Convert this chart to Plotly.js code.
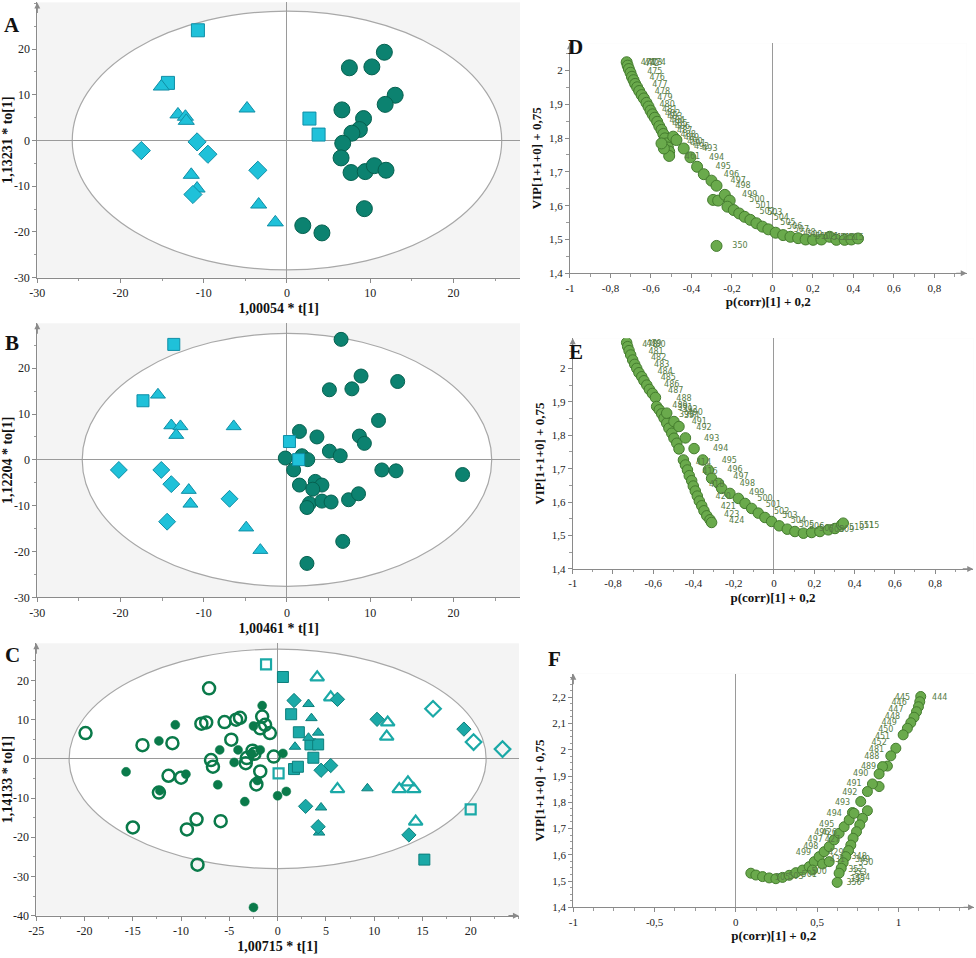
<!DOCTYPE html>
<html><head><meta charset="utf-8">
<script src="https://cdn.plot.ly/plotly-3.0.1.min.js"></script>
<style>html,body{margin:0;padding:0;background:#fff}#chart{width:976px;height:958px}</style>
</head><body><div id="chart"></div>
<script>
// ---------- Panel A (OPLS-DA scores) ----------
const A_sq_x = [-10.7, -14.3, 2.7, 3.8];
const A_sq_y = [24.1, 12.6, 4.8, 1.3];
const A_tri_x = [-15.1, -13.1, -12.2, -12.1, -4.8, -11.5, -10.8, -3.4, -1.4];
const A_tri_y = [11.8, 5.7, 5.2, 4.3, 7.0, -7.5, -10.5, -14.0, -17.9];
const A_dia_x = [-17.5, -10.8, -9.5, -3.5, -11.3];
const A_dia_y = [-2.2, -0.3, -3.0, -6.5, -11.8];
const A_cir_x = [7.5, 10.2, 11.7, 13.0, 11.8, 6.6, 9.2, 8.7, 7.8, 6.7, 6.5, 7.7, 9.4, 10.5, 11.9, 9.3, 1.9, 4.2];
const A_cir_y = [15.9, 16.1, 19.3, 9.9, 7.9, 6.7, 4.8, 2.4, 1.6, -0.6, -3.8, -7.0, -6.8, -5.5, -6.5, -14.9, -18.6, -20.2];

// ---------- Panel B ----------
const B_sq_x = [-13.6, -17.3, 0.3, 1.4];
const B_sq_y = [25.2, 12.9, 4.0, 0.05];
const B_tri_x = [-15.5, -13.9, -12.8, -13.3, -6.4, -11.8, -11.6, -4.9, -3.2];
const B_tri_y = [14.2, 7.5, 7.3, 5.4, 7.3, -6.6, -9.6, -14.8, -19.7];
const B_dia_x = [-20.2, -15.1, -13.9, -6.9, -14.4];
const B_dia_y = [-2.2, -2.2, -5.3, -8.5, -13.5];
const B_cir_x = [6.5, 8.9, 13.3, 5.1, 7.8, 11.0, 1.5, 3.6, 8.7, 9.3, -0.2, 1.8, 2.5, 5.1, 6.4, 0.8, 11.4, 13.1, 21.1, 1.5, 3.4, 4.2, 3.1, 2.7, 2.4, 4.2, 5.3, 7.4, 8.6, 6.7, 2.4];
const B_cir_y = [26.3, 18.3, 17.1, 15.3, 15.5, 8.6, 6.2, 5.0, 5.2, 3.6, 0.4, 0.9, 0.05, 1.9, 0.9, -2.2, -2.2, -2.4, -3.2, -5.5, -4.7, -5.5, -6.4, -9.5, -10.4, -9.0, -9.2, -8.7, -7.4, -17.8, -22.6];

// ---------- Panel C ----------
const C_osq_x = [-1.2, 0.1, 20.0];
const C_osq_y = [24.1, -3.7, -12.9];
const C_sq_x = [0.55, 1.4, 2.2, 3.4, 4.2, 3.7, 1.7, 2.1, 15.2];
const C_sq_y = [20.9, 11.4, 6.8, 3.7, 3.7, 0.3, -2.6, -2.0, -25.7];
const C_otri_x = [4.1, 5.5, 11.4, 11.3, 6.2, 12.6, 13.5, 14.1, 14.3];
const C_otri_y = [20.8, 15.7, 9.3, 5.7, -7.7, -7.7, -6.0, -7.7, -16.0];
const C_tri_x = [3.2, 3.5, 4.2, 3.2, 1.8, 9.3, 4.5, 4.3];
const C_tri_y = [14.0, 10.4, 6.7, 5.4, 3.1, -7.5, -12.4, -18.8];
const C_odia_x = [16.1, 20.3, 23.3];
const C_odia_y = [12.8, 4.3, 2.5];
const C_dia_x = [1.7, 6.2, 10.3, 19.3, 4.5, 5.5, 2.9, 4.2, 13.6];
const C_dia_y = [14.9, 15.2, 10.1, 7.6, -2.9, -1.7, -12.1, -17.3, -19.4];
const C_ocir_x = [-19.9, -14.0, -10.9, -7.1, -7.9, -7.4, -5.5, -4.3, -3.9, -4.8, -1.6, -1.3, -1.8, -0.8, -2.6, -2.4, -0.4, -6.9, -6.7, -3.3, -1.8, -2.2, -11.3, -10.0, -12.3, -15.0, -9.4, -8.4, -5.9, -8.3, -3.2];
const C_ocir_y = [6.6, 3.5, 4.0, 18.0, 9.0, 9.3, 9.4, 10.0, 10.5, 4.9, 10.8, 8.7, 7.8, 6.6, 2.1, 1.3, 0.6, -0.3, -2.0, -1.1, -3.2, -6.5, -4.3, -4.8, -8.6, -17.5, -18.0, -15.4, -15.9, -27.0, 0.2];
const C_cir_x = [-15.7, -12.3, -10.6, -12.2, -9.5, -6.0, -6.2, -4.1, -4.5, -3.4, -1.6, -2.5, -1.8, -2.7, -2.1, 0.0, 0.9, 0.55, -2.5];
const C_cir_y = [-3.3, 4.6, 8.7, -8.1, -3.9, 2.3, -6.6, 2.3, -0.9, -10.9, 13.6, 8.4, 2.3, 1.4, -5.5, -9.4, -8.3, 1.4, -37.9];

// ---------- Panel D (loadings) ----------
const D_cir_x = [-0.720, -0.715, -0.709, -0.701, -0.694, -0.686, -0.678, -0.668, -0.658, -0.646, -0.635, -0.622, -0.612, -0.602, -0.592, -0.581, -0.569, -0.559, -0.548, -0.539, -0.531, -0.523, -0.516, -0.510, -0.510, -0.536, -0.548, -0.490, -0.474,
  -0.438, -0.405, -0.372, -0.339, -0.301, -0.276, -0.293, -0.268, -0.235, -0.211, -0.222, -0.191, -0.164, -0.137, -0.109, -0.079, -0.049, -0.020, 0.016, 0.053, 0.089, 0.127, 0.164, 0.201, 0.242, 0.283, 0.316, 0.357, 0.390, 0.423, -0.276];
const D_cir_y = [2.024, 2.014, 2.004, 1.993, 1.981, 1.971, 1.960, 1.950, 1.939, 1.927, 1.917, 1.904, 1.893, 1.881, 1.870, 1.860, 1.848, 1.835, 1.824, 1.812, 1.799, 1.784, 1.772, 1.760, 1.747, 1.769, 1.784, 1.804, 1.794,
  1.769, 1.743, 1.715, 1.693, 1.674, 1.659, 1.617, 1.615, 1.632, 1.615, 1.597, 1.587, 1.577, 1.567, 1.558, 1.548, 1.538, 1.530, 1.520, 1.513, 1.508, 1.504, 1.500, 1.499, 1.500, 1.508, 1.499, 1.499, 1.500, 1.503, 1.481];
const D_txt_x = [-0.613, -0.597, -0.581, -0.564, -0.581, -0.569, -0.556, -0.543, -0.531, -0.520, -0.507, -0.493, -0.482, -0.470, -0.457, -0.444, -0.433, -0.416, -0.400, -0.383, -0.367, -0.350,
  -0.309, -0.276, -0.243, -0.202, -0.169, -0.145, -0.112, -0.076, -0.046, -0.026, 0.012, 0.044, 0.077, 0.110, 0.143, 0.176, 0.209, 0.250, 0.291, 0.332, 0.373, 0.414, -0.395, -0.160];
const D_txt_y = [2.021, 2.019, 2.023, 2.021, 1.996, 1.976, 1.957, 1.937, 1.917, 1.898, 1.883, 1.871, 1.861, 1.851, 1.841, 1.832, 1.822, 1.809, 1.799, 1.789, 1.782, 1.774,
  1.767, 1.742, 1.715, 1.690, 1.674, 1.658, 1.631, 1.617, 1.600, 1.582, 1.577, 1.563, 1.550, 1.538, 1.528, 1.520, 1.513, 1.508, 1.506, 1.505, 1.504, 1.504, 1.745, 1.480];
const D_txt = ['471', '472', '473', '474', '475', '476', '477', '478', '479', '480', '481', '482', '483', '484', '485', '486', '487', '488', '489', '490', '491', '492',
  '493', '494', '495', '496', '497', '498', '499', '500', '501', '502', '503', '504', '505', '506', '507', '508', '509', '510', '511', '512', '513', '515', '461', '350'];

// ---------- Panel E ----------
const E_cir_x = [-0.732, -0.727, -0.720, -0.712, -0.702, -0.692, -0.682, -0.671, -0.657, -0.646, -0.632, -0.619, -0.604, -0.589, -0.583, -0.570, -0.558, -0.546, -0.533, -0.522, -0.508, -0.497, -0.483, -0.472, -0.450, -0.440, -0.430, -0.421, -0.409, -0.401, -0.391, -0.381, -0.371, -0.359, -0.348, -0.334, -0.318, -0.310, -0.533, -0.497, -0.472,
  -0.440, -0.397, -0.354, -0.326, -0.310, -0.276, -0.260, -0.219, -0.177, -0.144, -0.111, -0.078, -0.045, -0.012, 0.026, 0.066, 0.104, 0.146, 0.187, 0.228, 0.270, 0.303, 0.336, 0.344];
const E_cir_y = [2.077, 2.065, 2.053, 2.040, 2.025, 2.012, 2.000, 1.987, 1.975, 1.963, 1.950, 1.937, 1.925, 1.913, 1.886, 1.876, 1.864, 1.851, 1.836, 1.821, 1.806, 1.791, 1.776, 1.759, 1.726, 1.711, 1.696, 1.679, 1.664, 1.648, 1.633, 1.618, 1.603, 1.589, 1.574, 1.559, 1.547, 1.539, 1.866, 1.841, 1.826,
  1.792, 1.760, 1.726, 1.696, 1.671, 1.656, 1.641, 1.626, 1.611, 1.596, 1.581, 1.567, 1.554, 1.542, 1.529, 1.519, 1.512, 1.507, 1.509, 1.512, 1.517, 1.521, 1.532, 1.537];
const E_txt_x = [-0.616, -0.596, -0.576, -0.586, -0.573, -0.558, -0.541, -0.525, -0.508, -0.488, -0.447, -0.467, -0.442, -0.417, -0.434, -0.409, -0.392, -0.371, -0.348, -0.310, -0.265, -0.222, -0.194, -0.164, -0.132, -0.086, -0.045, -0.003, 0.038, 0.079, 0.121, 0.162, 0.212, 0.262, 0.311, 0.361, 0.411, 0.460, 0.485,
  -0.351, -0.318, -0.285, -0.252, -0.227, -0.210, -0.185];
const E_txt_y = [2.070, 2.073, 2.070, 2.050, 2.030, 2.010, 1.990, 1.970, 1.950, 1.933, 1.908, 1.886, 1.881, 1.876, 1.861, 1.856, 1.866, 1.841, 1.821, 1.790, 1.759, 1.723, 1.696, 1.676, 1.654, 1.626, 1.608, 1.591, 1.571, 1.557, 1.542, 1.532, 1.525, 1.519, 1.517, 1.517, 1.522, 1.527, 1.529,
  1.716, 1.691, 1.651, 1.616, 1.586, 1.562, 1.542];
const E_txt = ['478', '479', '480', '481', '482', '483', '484', '485', '486', '487', '488', '489', '391', '392', '393', '394', '490', '491', '492', '493', '494', '495', '496', '497', '498', '499', '500', '501', '502', '503', '504', '505', '506', '507', '508', '509', '510', '511', '515',
  '414', '416', '418', '420', '421', '423', '424'];

// ---------- Panel F ----------
const F_cir_x = [1.137, 1.131, 1.123, 1.111, 1.096, 1.076, 1.055, 1.029, 0.984, 0.953, 0.932, 0.902, 0.881, 0.881, 0.840, 0.809, 0.768, 0.809, 0.717, 0.779, 0.762, 0.742, 0.721, 0.707, 0.693, 0.676, 0.660, 0.648, 0.635, 0.623,
  0.092, 0.123, 0.164, 0.205, 0.246, 0.287, 0.328, 0.369, 0.410, 0.451, 0.482, 0.512, 0.543, 0.574, 0.605, 0.635, 0.666, 0.697, 0.727, 0.471, 0.533, 0.574];
const F_cir_y = [2.203, 2.183, 2.164, 2.145, 2.124, 2.103, 2.082, 2.057, 2.006, 1.977, 1.938, 1.936, 1.908, 1.860, 1.870, 1.841, 1.803, 1.768, 1.761, 1.739, 1.714, 1.688, 1.663, 1.637, 1.616, 1.593, 1.570, 1.549, 1.530, 1.495,
  1.530, 1.523, 1.517, 1.512, 1.509, 1.514, 1.522, 1.532, 1.542, 1.555, 1.574, 1.593, 1.612, 1.631, 1.657, 1.682, 1.707, 1.733, 1.758, 1.542, 1.565, 1.574];
const F_txt_x = [1.254, 1.025, 1.004, 0.984, 0.963, 0.943, 0.922, 0.902, 0.881, 0.865, 0.836, 0.816, 0.768, 0.727, 0.701, 0.656, 0.605, 0.559, 0.529, 0.488, 0.461, 0.416,
  0.574, 0.594, 0.615, 0.625, 0.287, 0.369, 0.451, 0.512, 0.758, 0.779, 0.799, 0.738, 0.758, 0.779, 0.727, 0.748];
const F_txt_y = [2.199, 2.199, 2.177, 2.152, 2.126, 2.101, 2.076, 2.050, 2.025, 1.999, 1.971, 1.936, 1.907, 1.869, 1.834, 1.799, 1.756, 1.714, 1.682, 1.657, 1.631, 1.608,
  1.682, 1.657, 1.606, 1.580, 1.510, 1.514, 1.523, 1.536, 1.593, 1.580, 1.568, 1.542, 1.530, 1.510, 1.491, 1.504];
const F_txt = ['444', '445', '446', '447', '448', '449', '450', '451', '452', '481', '488', '489', '490', '491', '492', '493', '494', '495', '496', '497', '498', '499',
  '426', '427', '429', '431', '505', '503', '501', '500', '348', '349', '350', '352', '353', '354', '356', '355'];

// ---------- tick labels ----------
const AB_xtv = [-30, -20, -10, 0, 10, 20];
const AB_xtt = ['-30', '-20', '-10', '0', '10', '20'];
const AB_ytv = [-30, -20, -10, 0, 10, 20];
const AB_ytt = ['-30', '-20', '-10', '0', '10', '20'];
const C_xtv = [-25, -20, -15, -10, -5, 0, 5, 10, 15, 20];
const C_xtt = ['-25', '-20', '-15', '-10', '-5', '0', '5', '10', '15', '20'];
const C_ytv = [-40, -30, -20, -10, 0, 10, 20];
const C_ytt = ['-40', '-30', '-20', '-10', '0', '10', '20'];
const DE_xtv = [-1, -0.8, -0.6, -0.4, -0.2, 0, 0.2, 0.4, 0.6, 0.8];
const DE_xtt = ['-1', '-0,8', '-0,6', '-0,4', '-0,2', '0', '0,2', '0,4', '0,6', '0,8'];
const DE_ytv = [1.4, 1.5, 1.6, 1.7, 1.8, 1.9, 2.0];
const DE_ytt = ['1,4', '1,5', '1,6', '1,7', '1,8', '1,9', '2'];
const F_xtv = [-1, -0.5, 0, 0.5, 1];
const F_xtt = ['-1', '-0,5', '0', '0,5', '1'];
const F_ytv = [1.4, 1.5, 1.6, 1.7, 1.8, 1.9, 2.0, 2.1, 2.2];
const F_ytt = ['1,4', '1,5', '1,6', '1,7', '1,8', '1,9', '2', '2,1', '2,2'];

// ---------- styles ----------
const SERIF = 'Liberation Serif, Times New Roman, serif';
const CYAN = '#1fc1d9', CYAN_L = '#0f8ea6';
const TEAL = '#0c8270', TEAL_L = '#066150';
const CT = '#1ba9a7', CT_L = '#0d7f7c';
const GRN = '#0a7a4a';
const LG = '#6aaa4c', LG_L = '#447c2e';
const TXTC = '#577d45';

function sc(x, y, xa, ya, symbol, size, color, lineColor, lw) {
  return {type: 'scatter', mode: 'markers', x: x, y: y, xaxis: xa, yaxis: ya, hoverinfo: 'skip',
    marker: {symbol: symbol, size: size, color: color, line: {color: lineColor, width: lw}}};
}
function tx(x, y, t, xa, ya) {
  return {type: 'scatter', mode: 'text', x: x, y: y, text: t, xaxis: xa, yaxis: ya, hoverinfo: 'skip',
    textfont: {family: 'DejaVu Sans, sans-serif', size: 8, color: TXTC}};
}

const traces = [
  sc(A_cir_x, A_cir_y, 'x', 'y', 'circle', 16, TEAL, TEAL_L, 1),
  sc(A_sq_x, A_sq_y, 'x', 'y', 'square', 13, CYAN, CYAN_L, 1),
  sc(A_tri_x, A_tri_y, 'x', 'y', 'triangle-up', 14, CYAN, CYAN_L, 1),
  sc(A_dia_x, A_dia_y, 'x', 'y', 'diamond', 14, CYAN, CYAN_L, 1),

  sc(B_cir_x, B_cir_y, 'x2', 'y2', 'circle', 14, TEAL, TEAL_L, 1),
  sc(B_sq_x, B_sq_y, 'x2', 'y2', 'square', 12, CYAN, CYAN_L, 1),
  sc(B_tri_x, B_tri_y, 'x2', 'y2', 'triangle-up', 13, CYAN, CYAN_L, 1),
  sc(B_dia_x, B_dia_y, 'x2', 'y2', 'diamond', 13, CYAN, CYAN_L, 1),

  sc(C_ocir_x, C_ocir_y, 'x3', 'y3', 'circle-open', 12, GRN, GRN, 2.5),
  sc(C_cir_x, C_cir_y, 'x3', 'y3', 'circle', 9, GRN, GRN, 0.5),
  sc(C_osq_x, C_osq_y, 'x3', 'y3', 'square-open', 10, CT, CT, 2.2),
  sc(C_sq_x, C_sq_y, 'x3', 'y3', 'square', 11, CT, CT_L, 1),
  sc(C_otri_x, C_otri_y, 'x3', 'y3', 'triangle-up-open', 12, CT, CT, 2.2),
  sc(C_tri_x, C_tri_y, 'x3', 'y3', 'triangle-up', 10, CT, CT_L, 1),
  sc(C_odia_x, C_odia_y, 'x3', 'y3', 'diamond-open', 12, CT, CT, 2.2),
  sc(C_dia_x, C_dia_y, 'x3', 'y3', 'diamond', 11, CT, CT_L, 1),

  sc(D_cir_x, D_cir_y, 'x4', 'y4', 'circle', 11, LG, LG_L, 1),
  tx(D_txt_x, D_txt_y, D_txt, 'x4', 'y4'),
  sc(E_cir_x, E_cir_y, 'x5', 'y5', 'circle', 10.5, LG, LG_L, 1),
  tx(E_txt_x, E_txt_y, E_txt, 'x5', 'y5'),
  sc(F_cir_x, F_cir_y, 'x6', 'y6', 'circle', 10, LG, LG_L, 1),
  tx(F_txt_x, F_txt_y, F_txt, 'x6', 'y6')
];

function ax(domain, range, tv, tt, anchor, title, minorD, zl) {
  return {domain: domain, range: range, anchor: anchor, tickmode: 'array', tickvals: tv, ticktext: tt,
    showgrid: false, zeroline: zl, zerolinecolor: '#9a9a9a', zerolinewidth: 1,
    showline: true, linecolor: '#8a8a8a', linewidth: 1, ticks: 'outside', ticklen: 4, tickcolor: '#8a8a8a',
    minor: {tickmode: 'linear', tick0: 0, dtick: minorD, ticks: 'outside', ticklen: 2.5, tickcolor: '#9a9a9a'},
    tickfont: {family: SERIF, size: 12, color: '#222'},
    title: {text: title, font: {family: SERIF, size: 14, color: '#111', weight: 'bold'}, standoff: 4},
    fixedrange: true};
}

const xA = ax([0.0382, 0.5328], [-30, 28], AB_xtv, AB_xtt, 'y', '<b>1,00054 * t[1]</b>', 5, true);
const yA = ax([0.7101, 0.9975], [-30, 30.2], AB_ytv, AB_ytt, 'x', '<b>1,13231 * to[1]</b>', 5, true);
const xB = ax([0.0382, 0.5328], [-30, 28], AB_xtv, AB_xtt, 'y2', '<b>1,00461 * t[1]</b>', 5, true);
const yB = ax([0.3765, 0.6625], [-30, 29.8], AB_ytv, AB_ytt, 'x2', '<b>1,12204 * to[1]</b>', 5, true);
const xC = ax([0.0372, 0.5317], [-25, 25], C_xtv, C_xtt, 'y3', '<b>1,00715 * t[1]</b>', 2.5, true);
const yC = ax([0.0442, 0.3285], [-40, 29.5], C_ytv, C_ytt, 'x3', '<b>1,14133 * to[1]</b>', 5, true);
const xD = ax([0.5840, 0.9905], [-1, 0.96], DE_xtv, DE_xtt, 'y4', '<b>p(corr)[1] + 0,2</b>', 0.1, true);
const yD = ax([0.7147, 0.9548], [1.4, 2.08], DE_ytv, DE_ytt, 'x4', '<b>VIP[1+1+0] + 0,75</b>', 0.05, false);
const xE = ax([0.5868, 0.9972], [-1, 0.99], DE_xtv, DE_xtt, 'y5', '<b>p(corr)[1] + 0,2</b>', 0.1, true);
const yE = ax([0.4061, 0.6469], [1.4, 2.09], DE_ytv, DE_ytt, 'x5', '<b>VIP[1+1+0] + 0,75</b>', 0.05, false);
const xF = ax([0.5874, 0.9980], [-1, 1.465], F_xtv, F_xtt, 'y6', '<b>p(corr)[1] + 0,2</b>', 0.125, true);
const yF = ax([0.0529, 0.2968], [1.4, 2.29], F_ytv, F_ytt, 'x6', '<b>VIP[1+1+0] + 0,75</b>', 0.025, false);
[xD, yD, xE, yE, xF, yF].forEach(a => { a.tickfont.size = 11; a.title.font.size = 13; });

function ell(xr, yr, rx, ry) {
  return {type: 'circle', xref: xr, yref: yr, x0: -rx, x1: rx, y0: -ry, y1: ry,
    fillcolor: '#ffffff', line: {color: '#a8a8a8', width: 1.2}, layer: 'below'};
}
function arrUp(xr, yr, x, y) {
  return {xref: xr, yref: yr, x: x, y: y, ax: 0, ay: 12, text: '', showarrow: true,
    arrowhead: 2, arrowsize: 1, arrowwidth: 1.2, arrowcolor: '#8a8a8a'};
}
function arrRight(xr, yr, x, y) {
  return {xref: xr, yref: yr, x: x, y: y, ax: -12, ay: 0, text: '', showarrow: true,
    arrowhead: 2, arrowsize: 1, arrowwidth: 1.2, arrowcolor: '#8a8a8a'};
}
function letter(t, px, py) {
  return {xref: 'paper', yref: 'paper', x: px / 976, y: 1 - py / 958, xanchor: 'center', yanchor: 'middle',
    text: '<b>' + t + '</b>', showarrow: false, font: {family: SERIF, size: 21, color: '#111'}};
}

const layout = {
  width: 976, height: 958, margin: {l: 0, r: 0, t: 0, b: 0},
  paper_bgcolor: '#ffffff', plot_bgcolor: '#f4f4f4', showlegend: false, hovermode: false,
  xaxis: xA, yaxis: yA, xaxis2: xB, yaxis2: yB, xaxis3: xC, yaxis3: yC,
  xaxis4: xD, yaxis4: yD, xaxis5: xE, yaxis5: yE, xaxis6: xF, yaxis6: yF,
  shapes: [
    ell('x', 'y', 25.8, 28.3), ell('x2', 'y2', 24.6, 27.6), ell('x3', 'y3', 21.6, 28.0),
    {type: 'rect', xref: 'x4 domain', yref: 'y4 domain', x0: 0, x1: 1, y0: 0, y1: 1, fillcolor: '#fff', line: {width: 0}, layer: 'below'},
    {type: 'rect', xref: 'x5 domain', yref: 'y5 domain', x0: 0, x1: 1, y0: 0, y1: 1, fillcolor: '#fff', line: {width: 0}, layer: 'below'},
    {type: 'rect', xref: 'x6 domain', yref: 'y6 domain', x0: 0, x1: 1, y0: 0, y1: 1, fillcolor: '#fff', line: {width: 0}, layer: 'below'}
  ],
  annotations: [
    arrUp('x', 'y', -30, 30.2), arrUp('x2', 'y2', -30, 29.8), arrUp('x3', 'y3', -25, 29.5),
    arrRight('x3', 'y3', 25, -40),
    arrUp('x4', 'y4', -1, 2.08), arrRight('x4', 'y4', 0.96, 1.4),
    arrUp('x5', 'y5', -1, 2.09), arrRight('x5', 'y5', 0.99, 1.4),
    arrUp('x6', 'y6', -1, 2.29), arrRight('x6', 'y6', 1.465, 1.4),
    letter('A', 12, 25), letter('B', 12, 343), letter('C', 12, 655),
    letter('D', 575, 47), letter('E', 576, 352), letter('F', 554, 659)
  ]
};

Plotly.newPlot('chart', traces, layout, {staticPlot: true, displayModeBar: false});
</script>
</body></html>
